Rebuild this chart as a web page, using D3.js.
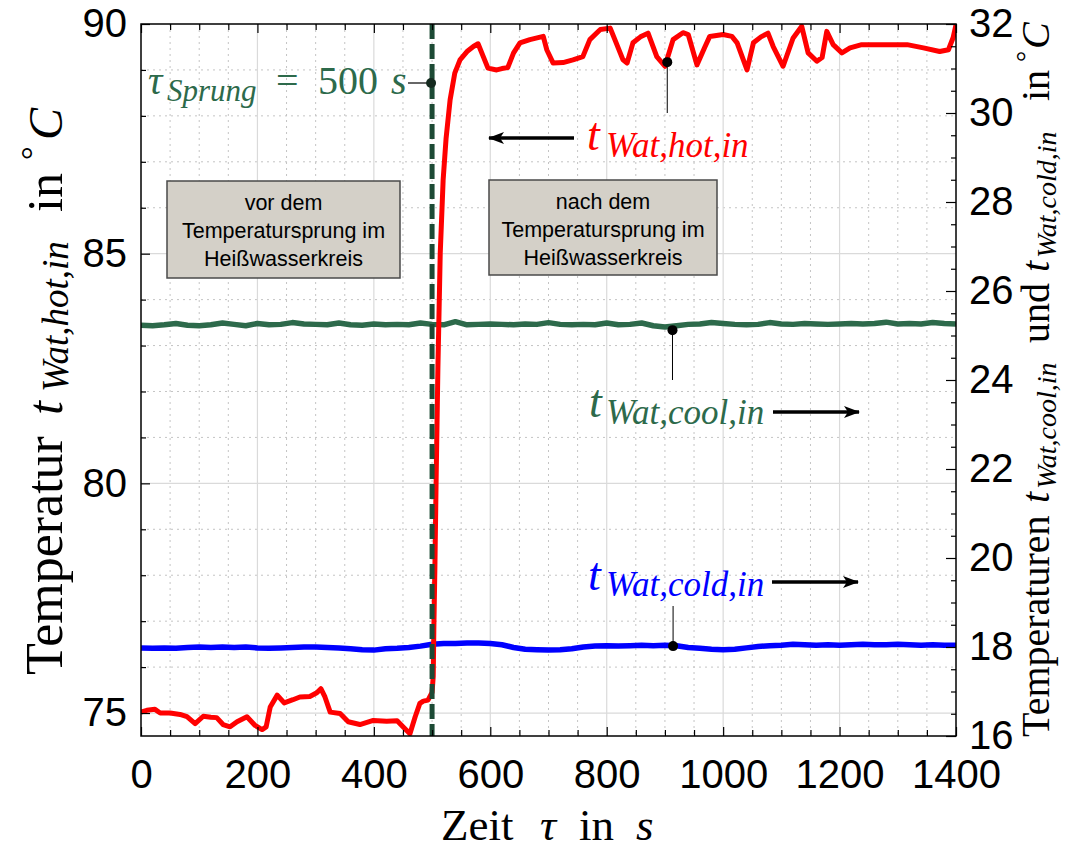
<!DOCTYPE html>
<html>
<head>
<meta charset="utf-8">
<script src="https://cdn.jsdelivr.net/npm/d3@7"></script>
<style>
  body { margin: 0; background: white; }
</style>
</head>
<body>
<script>
// data
const hotTime = [0, 10, 24, 33, 50, 67, 79, 93, 107, 120, 130, 141, 153, 165, 182, 196, 208, 215, 222, 234,
  246, 261, 273, 290, 302, 309, 316, 325, 342, 356, 376, 399, 422, 440, 450, 462, 471, 479, 485, 493,
  500, 502, 503, 505, 507, 510, 514, 519, 524, 531, 539, 548, 560, 571, 579, 588, 596, 611, 620, 630,
  640, 651, 668, 691, 697, 708, 725, 742, 759, 771, 789, 806, 814, 828, 835, 845, 858, 871, 886, 900,
  914, 931, 940, 955, 969, 977, 1000, 1015, 1024, 1041, 1052, 1065, 1077, 1086, 1103, 1120, 1135, 1146, 1161, 1170,
  1178, 1189, 1204, 1218, 1238, 1264, 1287, 1316, 1344, 1372, 1387, 1395, 1400]
const hotTemp = [75.02, 75.06, 75.08, 75.0, 75.0, 74.97, 74.92, 74.77, 74.93, 74.91, 74.9, 74.75, 74.7, 74.81, 74.92, 74.73, 74.64, 74.7, 75.13, 75.39,
  75.22, 75.29, 75.35, 75.36, 75.44, 75.53, 75.35, 75.02, 74.99, 74.81, 74.75, 74.84, 74.82, 74.83, 74.7, 74.55, 74.92, 75.21, 75.26, 75.28,
  75.45, 75.8, 76.8, 78.3, 80.1, 82.5, 85.0, 86.6, 87.5, 88.35, 88.93, 89.22, 89.4, 89.51, 89.57, 89.29, 89.04, 89.0, 89.03, 89.05,
  89.37, 89.59, 89.66, 89.73, 89.44, 89.15, 89.16, 89.22, 89.29, 89.66, 89.88, 89.91, 89.66, 89.22, 89.15, 89.59, 89.72, 89.8, 89.29, 89.08,
  89.66, 89.81, 89.77, 89.11, 89.51, 89.73, 89.77, 89.73, 89.59, 89.0, 89.59, 89.72, 89.8, 89.51, 89.08, 89.69, 89.95, 89.37, 89.19, 89.27,
  89.84, 89.55, 89.37, 89.48, 89.55, 89.55, 89.55, 89.55, 89.48, 89.4, 89.44, 89.7, 89.98]

const time20 = d3.range(0, 1401, 20)
const coolTemp = [25.23, 25.22, 25.24, 25.27, 25.23, 25.22, 25.24, 25.28, 25.25, 25.22, 25.27, 25.24, 25.25, 25.29, 25.26, 25.25, 25.24, 25.28, 25.24, 25.23,
  25.26, 25.24, 25.25, 25.24, 25.28, 25.25, 25.24, 25.31, 25.24, 25.25, 25.26, 25.25, 25.24, 25.26, 25.25, 25.29, 25.25, 25.24, 25.25, 25.24,
  25.28, 25.24, 25.25, 25.28, 25.22, 25.19, 25.22, 25.25, 25.26, 25.29, 25.27, 25.25, 25.24, 25.25, 25.29, 25.26, 25.25, 25.27, 25.26, 25.25,
  25.26, 25.27, 25.26, 25.27, 25.30, 25.26, 25.27, 25.26, 25.29, 25.27, 25.26]
const coldTemp = [17.98, 17.97, 17.98, 17.97, 17.99, 18.0, 17.99, 18.0, 17.99, 18.0, 17.98, 17.97, 17.98, 17.99, 18.0, 18.0, 17.99, 17.98, 17.96, 17.94,
  17.93, 17.96, 17.97, 17.99, 18.02, 18.06, 18.08, 18.08, 18.09, 18.09, 18.08, 18.05, 17.99, 17.95, 17.94, 17.93, 17.94, 17.96, 18.0, 18.02,
  18.03, 18.02, 18.03, 18.04, 18.03, 18.04, 18.03, 17.99, 17.97, 17.95, 17.94, 17.95, 17.98, 18.01, 18.03, 18.04, 18.06, 18.05, 18.04, 18.05,
  18.04, 18.05, 18.06, 18.05, 18.05, 18.06, 18.05, 18.04, 18.05, 18.04, 18.04]

const xTicks = [0, 200, 400, 600, 800, 1000, 1200, 1400]
const leftTicks = [75, 80, 85, 90]
const rightTicks = [16, 18, 20, 22, 24, 26, 28, 30, 32]
const tauSprung = 500

const w = 1068
const h = 850
const pL = 141, pR = 956, pT = 24, pB = 736
const green = "#2d6a4b"
const darkGreen = "#1d4a35"
const sans = "'Liberation Sans', Arial, sans-serif"
const serif = "'Liberation Serif', 'Times New Roman', serif"

const svg = d3.select("body")
              .append("svg")
              .attr("width", w)
              .attr("height", h)
              .style("background-color", "white")

//* scales
const xScale = d3.scaleLinear().domain([0, 1400]).range([pL, pR])
const yLeft = d3.scaleLinear().domain([74.5, 90]).range([pB, pT])
const yRight = d3.scaleLinear().domain([16, 32]).range([pB, pT])

//* grid
const grid = svg.append("g")
grid.selectAll(".vminor")
    .data(d3.range(50, 1400, 50).filter(d => d % 200 != 0))
    .enter().append("line")
    .attr("x1", d => xScale(d)).attr("x2", d => xScale(d))
    .attr("y1", pT).attr("y2", pB)
    .attr("stroke", "#c4c4c4").attr("stroke-dasharray", "2,4")
grid.selectAll(".hminor")
    .data(d3.range(75, 90, 1).filter(d => d % 5 != 0))
    .enter().append("line")
    .attr("x1", pL).attr("x2", pR)
    .attr("y1", d => yLeft(d)).attr("y2", d => yLeft(d))
    .attr("stroke", "#c4c4c4").attr("stroke-dasharray", "2,4")
grid.selectAll(".vmajor")
    .data(xTicks.slice(1, -1))
    .enter().append("line")
    .attr("x1", d => xScale(d)).attr("x2", d => xScale(d))
    .attr("y1", pT).attr("y2", pB)
    .attr("stroke", "#dadada").attr("stroke-width", 1.2)
grid.selectAll(".hmajor")
    .data([75, 80, 85])
    .enter().append("line")
    .attr("x1", pL).attr("x2", pR)
    .attr("y1", d => yLeft(d)).attr("y2", d => yLeft(d))
    .attr("stroke", "#dadada").attr("stroke-width", 1.2)

//* lines
svg.append("clipPath").attr("id", "clip")
   .append("rect").attr("x", pL).attr("y", pT).attr("width", pR - pL).attr("height", pB - pT)

const plot = svg.append("g").attr("clip-path", "url(#clip)")

const lineR = d3.line().x(d => xScale(d[0])).y(d => yRight(d[1]))
const lineL = d3.line().x(d => xScale(d[0])).y(d => yLeft(d[1]))

plot.append("path")
    .datum(time20.map((t, i) => [t, coldTemp[i]]))
    .attr("d", lineR)
    .attr("fill", "none").attr("stroke", "#0000ff").attr("stroke-width", 5.5).attr("stroke-linejoin", "round")
plot.append("path")
    .datum(time20.map((t, i) => [t, coolTemp[i]]))
    .attr("d", lineR)
    .attr("fill", "none").attr("stroke", green).attr("stroke-width", 5.5).attr("stroke-linejoin", "round")
plot.append("path")
    .datum(hotTime.map((t, i) => [t, hotTemp[i]]))
    .attr("d", lineL)
    .attr("fill", "none").attr("stroke", "#ff0000").attr("stroke-width", 5).attr("stroke-linejoin", "round")

// step marker
svg.append("line")
   .attr("x1", xScale(tauSprung)).attr("x2", xScale(tauSprung))
   .attr("y1", pT).attr("y2", pB)
   .attr("stroke", darkGreen).attr("stroke-width", 5).attr("stroke-dasharray", "15,5")

//* axes
function styleAxis(g) {
  g.select(".domain").remove()
  g.selectAll("text").style("font-family", sans).style("font-size", "40px").attr("fill", "black")
  g.selectAll("line").attr("stroke", "black").attr("stroke-width", 1.2)
}
const minorX = d3.range(0, 1401, 50).filter(d => d % 200 != 0)

svg.append("g").attr("transform", "translate(0," + pB + ")")
   .call(d3.axisBottom(xScale).tickValues(minorX).tickSize(-6).tickFormat(""))
   .call(styleAxis)
svg.append("g").attr("transform", "translate(0," + pB + ")")
   .call(d3.axisBottom(xScale).tickValues(xTicks).tickSize(-9).tickPadding(24).tickFormat(d3.format("d")))
   .call(styleAxis)
svg.append("g").attr("transform", "translate(0," + pT + ")")
   .call(d3.axisTop(xScale).tickValues(minorX).tickSize(-6).tickFormat(""))
   .call(styleAxis)
svg.append("g").attr("transform", "translate(0," + pT + ")")
   .call(d3.axisTop(xScale).tickValues(xTicks).tickSize(-9).tickFormat(""))
   .call(styleAxis)

svg.append("g").attr("transform", "translate(" + pL + ",0)")
   .call(d3.axisLeft(yLeft).tickValues(d3.range(75, 90, 1).filter(d => d % 5 != 0)).tickSize(-5).tickFormat(""))
   .call(styleAxis)
svg.append("g").attr("transform", "translate(" + pL + ",0)")
   .call(d3.axisLeft(yLeft).tickValues(leftTicks).tickSize(-9).tickPadding(14).tickFormat(d3.format("d")))
   .call(styleAxis)

svg.append("g").attr("transform", "translate(" + pR + ",0)")
   .call(d3.axisRight(yRight).tickValues(d3.range(16.5, 32, 0.5).filter(d => d % 2 != 0)).tickSize(-5).tickFormat(""))
   .call(styleAxis)
svg.append("g").attr("transform", "translate(" + pR + ",0)")
   .call(d3.axisRight(yRight).tickValues(rightTicks).tickSize(-10).tickPadding(13).tickFormat(d3.format("d")))
   .call(styleAxis)

// frame
svg.append("rect")
   .attr("x", pL).attr("y", pT).attr("width", pR - pL).attr("height", pB - pT)
   .attr("fill", "none").attr("stroke", "black").attr("stroke-width", 1.5)

//* math-like text, each piece placed on its own: [text, x, italic, size, dy]
function mathText(g, parts, color) {
  g.selectAll("text")
   .data(parts).enter().append("text")
   .attr("x", d => d[1])
   .attr("y", d => d[4] || 0)
   .attr("fill", color || "black")
   .style("font-family", serif)
   .style("font-style", d => d[2] ? "italic" : "normal")
   .style("font-size", d => d[3] + "px")
   .text(d => d[0])
  return g
}

// axis titles
mathText(svg.append("g").attr("transform", "translate(0,840)"),
  [["Zeit", 441, false, 45], ["\u03c4", 540, true, 45], ["in", 579, false, 45], ["s", 636, true, 45]])

// rotated: x = -(screen y where the piece starts)
mathText(svg.append("g").attr("transform", "translate(62,0) rotate(-90)"),
  [["Temperatur", -675, false, 52], ["t", -415, true, 50], ["Wat,hot,in", -392, true, 37, 6],
   ["in", -212, false, 50], ["\u00b0", -160, false, 34, -18], ["C", -140, true, 48]])

mathText(svg.append("g").attr("transform", "translate(1049,0) rotate(-90)"),
  [["Temperaturen", -737, false, 40], ["t", -503, true, 40], ["Wat,cool,in", -489, true, 28, 7],
   ["und", -343, false, 40], ["t", -272, true, 40], ["Wat,cold,in", -258, true, 28, 7],
   ["in", -101, false, 40], ["\u00b0", -62, false, 28, -14], ["C", -49, true, 40]])

// tau label
mathText(svg.append("g").attr("transform", "translate(0,94)"),
  [["\u03c4", 148, true, 40], ["Sprung", 167, true, 31, 7], ["=", 276, false, 40], ["500", 318, false, 40], ["s", 391, true, 40]], green)
svg.append("line")
   .attr("x1", 408).attr("x2", xScale(tauSprung)).attr("y1", 83).attr("y2", 83)
   .attr("stroke", "black").attr("stroke-width", 1.2)
svg.append("circle").attr("cx", xScale(tauSprung) - 1).attr("cy", 83).attr("r", 5).attr("fill", "#142a1f")

// boxes
function box(x, y, bw, bh, lines) {
  svg.append("rect").attr("x", x).attr("y", y).attr("width", bw).attr("height", bh)
     .attr("fill", "#d4d0c8").attr("stroke", "#4a4a4a").attr("stroke-width", 1.5)
  svg.append("g").selectAll("text")
     .data(lines).enter().append("text")
     .attr("x", x + bw / 2).attr("y", (d, i) => y + 29 + i * 28)
     .attr("text-anchor", "middle")
     .style("font-family", sans).style("font-size", "21.5px")
     .text(d => d)
}
box(167, 181, 233, 97, ["vor dem", "Temperatursprung im", "Heißwasserkreis"])
box(489, 180, 228, 95, ["nach dem", "Temperatursprung im", "Heißwasserkreis"])

// arrows
svg.append("defs").append("marker")
   .attr("id", "arrow").attr("viewBox", "0 0 16 12").attr("refX", 15).attr("refY", 6)
   .attr("markerWidth", 16).attr("markerHeight", 12).attr("markerUnits", "userSpaceOnUse")
   .attr("orient", "auto")
   .append("path").attr("d", "M0,0 L16,6 L0,12 L4,6 Z").attr("fill", "black")

function arrow(x1, x2, y) {
  svg.append("line").attr("x1", x1).attr("x2", x2).attr("y1", y).attr("y2", y)
     .attr("stroke", "black").attr("stroke-width", 3.5).attr("marker-end", "url(#arrow)")
}
arrow(574, 489, 138)
arrow(773, 859, 412)
arrow(772, 858, 582)

// series labels
mathText(svg.append("g").attr("transform", "translate(0,150)"),
  [["t", 587, true, 46], ["Wat,hot,in", 606, true, 35, 7]], "#ff0000")
mathText(svg.append("g").attr("transform", "translate(0,417)"),
  [["t", 589, true, 46], ["Wat,cool,in", 606, true, 35, 7]], green)
mathText(svg.append("g").attr("transform", "translate(0,590)"),
  [["t", 588, true, 46], ["Wat,cold,in", 606, true, 35, 6]], "#0000ff")

// callouts
const callouts = [
  {t: 904, v: yLeft(89.17), end: 113},
  {t: 913, v: yRight(25.12), end: 380},
  {t: 914, v: yRight(18.02), end: 606}
]
callouts.forEach(c => {
  svg.append("line").attr("x1", xScale(c.t)).attr("x2", xScale(c.t)).attr("y1", c.v).attr("y2", c.end)
     .attr("stroke", "black").attr("stroke-width", 1)
  svg.append("circle").attr("cx", xScale(c.t)).attr("cy", c.v).attr("r", 5).attr("fill", "black")
})
</script>
</body>
</html>
